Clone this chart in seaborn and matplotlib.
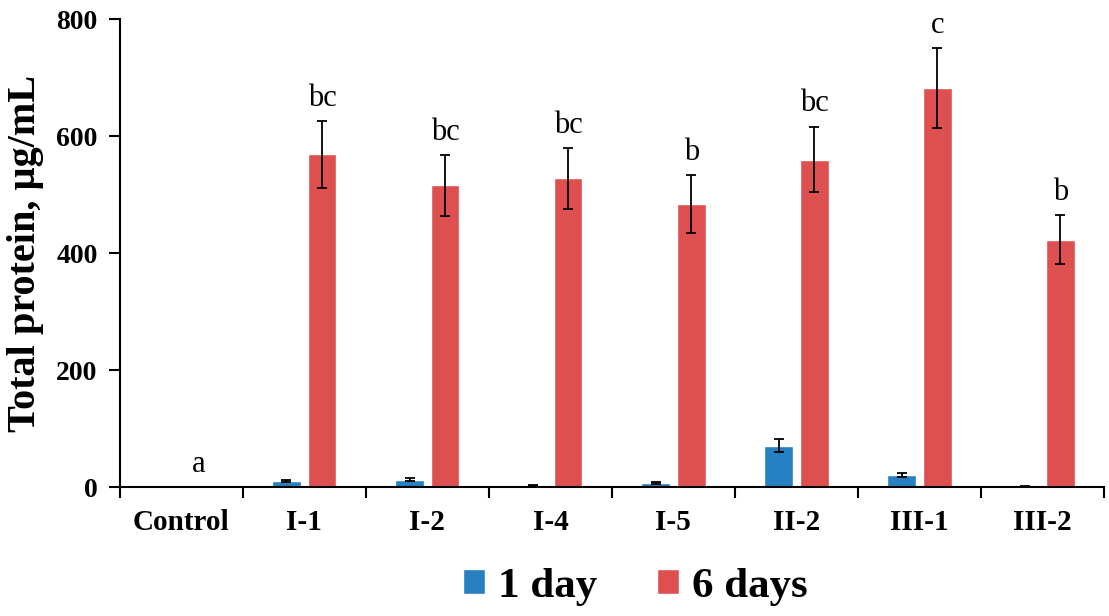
import seaborn as sns
import matplotlib.pyplot as plt
import pandas as pd
from matplotlib.patches import Patch

# values
groups = ["Control", "I-1", "I-2", "I-4", "I-5", "II-2", "III-1", "III-2"]
day1 = [0, 11, 13, 3, 7, 71, 21, 2]
day1_err = [0, 2, 3, 1, 1.5, 11, 4, 1]
day6 = [0, 569, 516, 528, 484, 560, 682, 423]
day6_err = [0, 57, 52, 52, 49, 56, 68, 42]
letters = ["a", "bc", "bc", "bc", "b", "bc", "c", "b"]
series = ["1 day", "6 days"]
colors = ["#2680C2", "#DE5050"]

df = pd.DataFrame({
    "group": groups * 2,
    "time": [series[0]] * len(groups) + [series[1]] * len(groups),
    "value": day1 + day6,
})

sns.set_style("ticks")
plt.rcParams["font.family"] = ["Liberation Serif", "DejaVu Serif"]
plt.rcParams.update({"text.color": "black", "axes.edgecolor": "black",
                     "xtick.color": "black", "ytick.color": "black",
                     "axes.labelcolor": "black"})

fig = plt.figure(figsize=(11.09, 6.16), dpi=100)
ax = fig.add_axes([0.108, 0.209, 0.8875, 0.76])

sns.barplot(data=df, x="group", y="value", hue="time", palette=colors,
            width=0.58, gap=0.2, errorbar=None, legend=False, ax=ax,
            saturation=1)

errs = [day1_err, day6_err]
for cont, err in zip(ax.containers, errs):
    xs = [b.get_x() + b.get_width() / 2 for b in cont]
    hs = [b.get_height() for b in cont]
    ax.errorbar(xs, hs, yerr=err, fmt="none", ecolor="black",
                elinewidth=1.3, capsize=3.5, capthick=1.3)

# significance letters over the 6-day bars
for b, h, e, lab in zip(ax.containers[1], day6, day6_err, letters):
    ax.annotate(lab, (b.get_x() + b.get_width() / 2, h + e),
                xytext=(0, 6), textcoords="offset points",
                ha="center", va="bottom", fontsize=22, color="black")

ax.set_ylim(0, 800)
ax.set_yticks([0, 200, 400, 600, 800])
ax.set_xlim(-0.5, len(groups) - 0.5)
ax.set_xticks([i - 0.5 for i in range(len(groups) + 1)])
ax.set_xticklabels([])
ax.set_xticks(range(len(groups)), minor=True)
ax.set_xticklabels(groups, minor=True, fontsize=21, fontweight="bold")
ax.tick_params(axis="x", which="minor", length=0, pad=16)
ax.tick_params(axis="x", which="major", length=8, width=1.5, direction="out")
ax.tick_params(axis="y", length=8, width=1.5, direction="out", pad=8,
               labelsize=20)
for t in ax.get_yticklabels():
    t.set_fontweight("bold")

ax.set_xlabel("")
ax.set_ylabel("Total protein, µg/mL", fontsize=29, fontweight="bold")
ax.yaxis.set_label_coords(-0.077, 0.5)

sns.despine(ax=ax)
for s in ["left", "bottom"]:
    ax.spines[s].set_linewidth(1.5)

handles = [Patch(facecolor=c, label=l) for c, l in zip(colors, series)]
fig.legend(handles=handles, loc="center", bbox_to_anchor=(0.573, 0.047),
           ncol=2, frameon=False, prop={"size": 31, "weight": "bold"},
           handlelength=0.5, handleheight=0.5, handletextpad=0.3,
           columnspacing=1.4)

fig.savefig("out.png", dpi=100)
